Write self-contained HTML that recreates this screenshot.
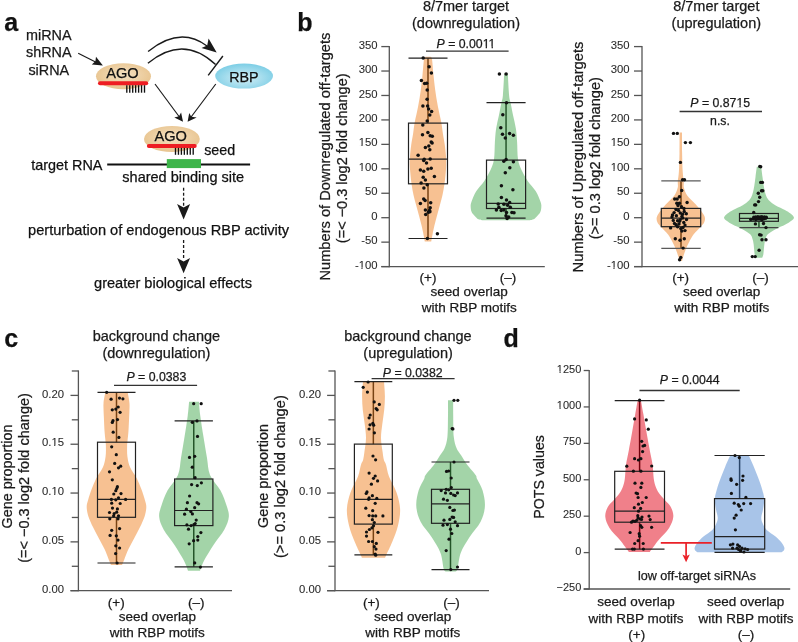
<!DOCTYPE html>
<html><head><meta charset="utf-8"><style>
html,body{margin:0;padding:0;background:#fff;}
body{width:798px;height:642px;overflow:hidden;font-family:"Liberation Sans", sans-serif;}
svg{display:block;will-change:transform;}
text{stroke:currentColor;stroke-width:0.25px;}
</style></head><body>
<svg width="798" height="642" viewBox="0 0 798 642" font-family='"Liberation Sans", sans-serif'>
<defs><radialGradient id="ago" cx="50%" cy="45%" r="55%"><stop offset="0" stop-color="#F5E1C2"/><stop offset="1" stop-color="#E8C48F"/></radialGradient><radialGradient id="rbp" cx="50%" cy="58%" r="55%"><stop offset="0" stop-color="#D2EFF7"/><stop offset="0.35" stop-color="#B8E4F1"/><stop offset="1" stop-color="#80CFE6"/></radialGradient><marker id="ah" viewBox="0 0 10 10" refX="9" refY="5" markerWidth="7" markerHeight="7" orient="auto-start-reverse" markerUnits="userSpaceOnUse"><path d="M0,0 L10,5 L0,10 L3,5 Z" fill="#1a1a1a"/></marker></defs>
<rect width="798" height="642" fill="#fff"/>
<text x="4.3" y="31" font-size="25" text-anchor="start" font-weight="bold" fill="#111" color="#111">a</text>
<text x="48.8" y="40" font-size="14.4" text-anchor="middle" fill="#1a1a1a" color="#1a1a1a">miRNA</text>
<text x="48.8" y="57.4" font-size="14.4" text-anchor="middle" fill="#1a1a1a" color="#1a1a1a">shRNA</text>
<text x="48.8" y="75" font-size="14.4" text-anchor="middle" fill="#1a1a1a" color="#1a1a1a">siRNA</text>
<path d="M78.2,53.3 L101,64.7" stroke="#1a1a1a" stroke-width="1.15" fill="none"/>
<path d="M102.9,65.6 L91.8,64.6 L95.4,61.2 L96,56.8 Z" fill="#1a1a1a"/>
<ellipse cx="123.5" cy="76.2" rx="27.5" ry="13" fill="url(#ago)"/>
<text x="122.4" y="77.8" font-size="14.6" text-anchor="middle" fill="#111" color="#111">AGO</text>
<line x1="100" y1="83.2" x2="146.2" y2="83.2" stroke="#EE1D23" stroke-width="4" stroke-linecap="round"/>
<line x1="126.8" y1="85.2" x2="126.8" y2="92.7" stroke="#111" stroke-width="1.35"/>
<line x1="129.75" y1="85.2" x2="129.75" y2="92.7" stroke="#111" stroke-width="1.35"/>
<line x1="132.7" y1="85.2" x2="132.7" y2="92.7" stroke="#111" stroke-width="1.35"/>
<line x1="135.65" y1="85.2" x2="135.65" y2="92.7" stroke="#111" stroke-width="1.35"/>
<line x1="138.6" y1="85.2" x2="138.6" y2="92.7" stroke="#111" stroke-width="1.35"/>
<line x1="141.55" y1="85.2" x2="141.55" y2="92.7" stroke="#111" stroke-width="1.35"/>
<line x1="144.5" y1="85.2" x2="144.5" y2="92.7" stroke="#111" stroke-width="1.35"/>
<ellipse cx="244.1" cy="76.05" rx="28.9" ry="12.55" fill="url(#rbp)"/>
<text x="243.9" y="82" font-size="14.3" text-anchor="middle" fill="#111" color="#111">RBP</text>
<path d="M148.1,51.5 Q180,25.6 207,46" stroke="#1a1a1a" stroke-width="1.4" fill="none"/>
<path d="M216.7,52.6 L208.6,38.5 L207.2,45.6 L201.5,48.1 Z" fill="#1a1a1a"/>
<path d="M147.9,63.3 Q183,34 215.6,64.5" stroke="#1a1a1a" stroke-width="1.4" fill="none"/>
<line x1="222.9" y1="56" x2="208.2" y2="75.4" stroke="#1a1a1a" stroke-width="1.4"/>
<path d="M155,84 L182,120.5" stroke="#1a1a1a" stroke-width="1.15" fill="none"/>
<path d="M183,121.8 L174.3,117.4 L179,116.2 L181.1,112.4 Z" fill="#1a1a1a"/>
<path d="M215.8,84 L188.5,120.5" stroke="#1a1a1a" stroke-width="1.15" fill="none"/>
<path d="M187.6,121.8 L189.2,113 L191.3,116.7 L196.7,117.4 Z" fill="#1a1a1a"/>
<ellipse cx="171.9" cy="139" rx="27.9" ry="13.1" fill="url(#ago)"/>
<text x="170.7" y="140.5" font-size="14.6" text-anchor="middle" fill="#111" color="#111">AGO</text>
<line x1="148.8" y1="146" x2="194.8" y2="146" stroke="#EE1D23" stroke-width="3.8" stroke-linecap="round"/>
<line x1="175.5" y1="147.9" x2="175.5" y2="154.8" stroke="#111" stroke-width="1.35"/>
<line x1="178.45" y1="147.9" x2="178.45" y2="154.8" stroke="#111" stroke-width="1.35"/>
<line x1="181.4" y1="147.9" x2="181.4" y2="154.8" stroke="#111" stroke-width="1.35"/>
<line x1="184.35" y1="147.9" x2="184.35" y2="154.8" stroke="#111" stroke-width="1.35"/>
<line x1="187.3" y1="147.9" x2="187.3" y2="154.8" stroke="#111" stroke-width="1.35"/>
<line x1="190.25" y1="147.9" x2="190.25" y2="154.8" stroke="#111" stroke-width="1.35"/>
<line x1="193.2" y1="147.9" x2="193.2" y2="154.8" stroke="#111" stroke-width="1.35"/>
<text x="204.2" y="154.7" font-size="14.3" text-anchor="start" fill="#111" color="#111">seed</text>
<text x="31.2" y="169.6" font-size="14.4" text-anchor="start" fill="#111" color="#111">target RNA</text>
<line x1="107.2" y1="164.5" x2="250.1" y2="164.5" stroke="#111" stroke-width="1.8"/>
<rect x="166.8" y="159.1" width="34.2" height="9" fill="#3DB54A"/>
<text x="183.2" y="181.6" font-size="14.5" text-anchor="middle" fill="#111" color="#111">shared binding site</text>
<line x1="183.6" y1="187.7" x2="183.6" y2="206" stroke="#1a1a1a" stroke-width="1.3" stroke-dasharray="3,2"/>
<path d="M183.6,219.4 L177.1,204 L183.6,207.4 L190.1,204 Z" fill="#1a1a1a"/>
<text x="158.6" y="235.1" font-size="14.6" text-anchor="middle" fill="#111" color="#111">perturbation of endogenous RBP activity</text>
<line x1="183.6" y1="240" x2="183.6" y2="260" stroke="#1a1a1a" stroke-width="1.3" stroke-dasharray="3,2"/>
<path d="M183.6,273.3 L177.1,258 L183.6,261.4 L190.1,258 Z" fill="#1a1a1a"/>
<text x="173" y="288.4" font-size="14.6" text-anchor="middle" fill="#111" color="#111">greater biological effects</text>
<text x="297.2" y="30.6" font-size="25" text-anchor="start" font-weight="bold" fill="#111" color="#111">b</text>
<text x="466" y="11" font-size="14.5" text-anchor="middle" fill="#1a1a1a" color="#1a1a1a">8/7mer target</text>
<text x="466" y="27.7" font-size="14.5" text-anchor="middle" fill="#1a1a1a" color="#1a1a1a">(downregulation)</text>
<line x1="389.3" y1="45.98499999999998" x2="389.3" y2="267.19" stroke="#555" stroke-width="1.3"/>
<line x1="381.3" y1="46.58499999999998" x2="389.3" y2="46.58499999999998" stroke="#555" stroke-width="1.3"/>
<text x="377.5" y="48.68499999999998" font-size="11.3" text-anchor="end" fill="#2a2a2a" color="#2a2a2a" style="stroke-width:0.08px">350</text>
<line x1="381.3" y1="71.03" x2="389.3" y2="71.03" stroke="#555" stroke-width="1.3"/>
<text x="377.5" y="73.13" font-size="11.3" text-anchor="end" fill="#2a2a2a" color="#2a2a2a" style="stroke-width:0.08px">300</text>
<line x1="381.3" y1="95.475" x2="389.3" y2="95.475" stroke="#555" stroke-width="1.3"/>
<text x="377.5" y="97.57499999999999" font-size="11.3" text-anchor="end" fill="#2a2a2a" color="#2a2a2a" style="stroke-width:0.08px">250</text>
<line x1="381.3" y1="119.91999999999999" x2="389.3" y2="119.91999999999999" stroke="#555" stroke-width="1.3"/>
<text x="377.5" y="122.01999999999998" font-size="11.3" text-anchor="end" fill="#2a2a2a" color="#2a2a2a" style="stroke-width:0.08px">200</text>
<line x1="381.3" y1="144.365" x2="389.3" y2="144.365" stroke="#555" stroke-width="1.3"/>
<text x="377.5" y="146.465" font-size="11.3" text-anchor="end" fill="#2a2a2a" color="#2a2a2a" style="stroke-width:0.08px">150</text>
<line x1="381.3" y1="168.81" x2="389.3" y2="168.81" stroke="#555" stroke-width="1.3"/>
<text x="377.5" y="170.91" font-size="11.3" text-anchor="end" fill="#2a2a2a" color="#2a2a2a" style="stroke-width:0.08px">100</text>
<line x1="381.3" y1="193.255" x2="389.3" y2="193.255" stroke="#555" stroke-width="1.3"/>
<text x="377.5" y="195.355" font-size="11.3" text-anchor="end" fill="#2a2a2a" color="#2a2a2a" style="stroke-width:0.08px">50</text>
<line x1="381.3" y1="217.7" x2="389.3" y2="217.7" stroke="#555" stroke-width="1.3"/>
<text x="377.5" y="219.79999999999998" font-size="11.3" text-anchor="end" fill="#2a2a2a" color="#2a2a2a" style="stroke-width:0.08px">0</text>
<line x1="381.3" y1="242.14499999999998" x2="389.3" y2="242.14499999999998" stroke="#555" stroke-width="1.3"/>
<text x="377.5" y="244.24499999999998" font-size="11.3" text-anchor="end" fill="#2a2a2a" color="#2a2a2a" style="stroke-width:0.08px">-50</text>
<line x1="381.3" y1="266.59" x2="389.3" y2="266.59" stroke="#555" stroke-width="1.3"/>
<text x="377.5" y="268.69" font-size="11.3" text-anchor="end" fill="#2a2a2a" color="#2a2a2a" style="stroke-width:0.08px">-100</text>
<line x1="381.3" y1="266.59" x2="544.8" y2="266.59" stroke="#555" stroke-width="1.3"/>
<text x="330" y="156.6" font-size="14.65" text-anchor="middle" fill="#1a1a1a" color="#1a1a1a" transform="rotate(-90 330 156.6)">Numbers of Downregulated off-targets</text>
<text x="347.2" y="158.3" font-size="14.5" text-anchor="middle" fill="#1a1a1a" color="#1a1a1a" transform="rotate(-90 347.2 158.3)">(=&lt; −0.3 log2 fold change)</text>
<line x1="428.0" y1="58.2" x2="428.0" y2="123.1" stroke="#000" stroke-width="1.5"/>
<line x1="428.0" y1="183.8" x2="428.0" y2="238.5" stroke="#000" stroke-width="1.5"/>
<path d="M425.50,56.80 L430.50,56.80 C430.75,57.22 431.50,56.27 432.00,59.30 C432.50,62.33 432.97,69.88 433.50,75.00 C434.03,80.12 434.48,84.83 435.20,90.00 C435.92,95.17 436.78,100.57 437.80,106.00 C438.82,111.43 440.47,118.10 441.30,122.60 C442.13,127.10 442.22,129.27 442.80,133.00 C443.38,136.73 444.27,141.10 444.80,145.00 C445.33,148.90 445.77,153.07 446.00,156.40 C446.23,159.73 446.28,161.90 446.20,165.00 C446.12,168.10 445.82,171.67 445.50,175.00 C445.18,178.33 444.80,181.67 444.30,185.00 C443.80,188.33 443.23,191.67 442.50,195.00 C441.77,198.33 440.83,201.50 439.90,205.00 C438.97,208.50 437.83,212.50 436.90,216.00 C435.97,219.50 435.02,223.00 434.30,226.00 C433.58,229.00 433.12,231.42 432.60,234.00 C432.08,236.58 431.43,240.25 431.20,241.50 L424.80,241.50 C424.57,240.25 423.92,236.58 423.40,234.00 C422.88,231.42 422.42,229.00 421.70,226.00 C420.98,223.00 420.03,219.50 419.10,216.00 C418.17,212.50 417.03,208.50 416.10,205.00 C415.17,201.50 414.23,198.33 413.50,195.00 C412.77,191.67 412.20,188.33 411.70,185.00 C411.20,181.67 410.82,178.33 410.50,175.00 C410.18,171.67 409.88,168.10 409.80,165.00 C409.72,161.90 409.77,159.73 410.00,156.40 C410.23,153.07 410.67,148.90 411.20,145.00 C411.73,141.10 412.62,136.73 413.20,133.00 C413.78,129.27 413.87,127.10 414.70,122.60 C415.53,118.10 417.18,111.43 418.20,106.00 C419.22,100.57 420.08,95.17 420.80,90.00 C421.52,84.83 421.97,80.12 422.50,75.00 C423.03,69.88 423.50,62.33 424.00,59.30 C424.50,56.27 425.25,57.22 425.50,56.80 Z" fill="#F08425" fill-opacity="0.5"/>
<line x1="408.5" y1="58.2" x2="447.5" y2="58.2" stroke="#222" stroke-width="1.2"/>
<line x1="408.5" y1="238.5" x2="447.5" y2="238.5" stroke="#222" stroke-width="1.2"/>
<rect x="408.5" y="123.1" width="39.0" height="60.70000000000002" fill="none" stroke="#222" stroke-width="1.2"/>
<line x1="408.5" y1="159.2" x2="447.5" y2="159.2" stroke="#222" stroke-width="1.2"/>
<circle cx="423.2" cy="57.9" r="1.75" fill="#111"/>
<circle cx="429.1" cy="66.8" r="1.75" fill="#111"/>
<circle cx="431.4" cy="72.9" r="1.75" fill="#111"/>
<circle cx="421.4" cy="80.4" r="1.75" fill="#111"/>
<circle cx="424.6" cy="83.5" r="1.75" fill="#111"/>
<circle cx="426.7" cy="83.2" r="1.75" fill="#111"/>
<circle cx="427.2" cy="90.0" r="1.75" fill="#111"/>
<circle cx="427.1" cy="99.3" r="1.75" fill="#111"/>
<circle cx="422.9" cy="106.1" r="1.75" fill="#111"/>
<circle cx="427.6" cy="106.1" r="1.75" fill="#111"/>
<circle cx="428.6" cy="109.1" r="1.75" fill="#111"/>
<circle cx="431.6" cy="111.4" r="1.75" fill="#111"/>
<circle cx="429.8" cy="115.1" r="1.75" fill="#111"/>
<circle cx="427.2" cy="120.9" r="1.75" fill="#111"/>
<circle cx="422.8" cy="125.1" r="1.75" fill="#111"/>
<circle cx="427.9" cy="132.6" r="1.75" fill="#111"/>
<circle cx="422.5" cy="134.7" r="1.75" fill="#111"/>
<circle cx="430.2" cy="135.7" r="1.75" fill="#111"/>
<circle cx="432.3" cy="136.3" r="1.75" fill="#111"/>
<circle cx="431.2" cy="141.9" r="1.75" fill="#111"/>
<circle cx="432.1" cy="143.1" r="1.75" fill="#111"/>
<circle cx="428.8" cy="146.1" r="1.75" fill="#111"/>
<circle cx="425.4" cy="147.5" r="1.75" fill="#111"/>
<circle cx="429.8" cy="149.7" r="1.75" fill="#111"/>
<circle cx="418.1" cy="155.2" r="1.75" fill="#111"/>
<circle cx="424.2" cy="159.2" r="1.75" fill="#111"/>
<circle cx="430.2" cy="159.0" r="1.75" fill="#111"/>
<circle cx="426.5" cy="163.0" r="1.75" fill="#111"/>
<circle cx="423.7" cy="160.5" r="1.75" fill="#111"/>
<circle cx="427.9" cy="168.9" r="1.75" fill="#111"/>
<circle cx="431.2" cy="168.2" r="1.75" fill="#111"/>
<circle cx="420.4" cy="170.1" r="1.75" fill="#111"/>
<circle cx="423.7" cy="171.2" r="1.75" fill="#111"/>
<circle cx="423.2" cy="177.3" r="1.75" fill="#111"/>
<circle cx="434.4" cy="176.6" r="1.75" fill="#111"/>
<circle cx="425.4" cy="180.1" r="1.75" fill="#111"/>
<circle cx="421.1" cy="182.9" r="1.75" fill="#111"/>
<circle cx="427.2" cy="184.8" r="1.75" fill="#111"/>
<circle cx="423.9" cy="187.9" r="1.75" fill="#111"/>
<circle cx="423.7" cy="199.1" r="1.75" fill="#111"/>
<circle cx="425.1" cy="200.4" r="1.75" fill="#111"/>
<circle cx="420.4" cy="203.5" r="1.75" fill="#111"/>
<circle cx="430.7" cy="202.8" r="1.75" fill="#111"/>
<circle cx="430.2" cy="207.7" r="1.75" fill="#111"/>
<circle cx="425.4" cy="210.0" r="1.75" fill="#111"/>
<circle cx="429.5" cy="210.5" r="1.75" fill="#111"/>
<circle cx="429.9" cy="211.7" r="1.75" fill="#111"/>
<circle cx="428.4" cy="212.3" r="1.75" fill="#111"/>
<circle cx="425.7" cy="214.4" r="1.75" fill="#111"/>
<circle cx="437.4" cy="233.8" r="1.75" fill="#111"/>
<circle cx="427.4" cy="238.5" r="1.75" fill="#111"/>
<line x1="506.05" y1="102.7" x2="506.05" y2="160.1" stroke="#000" stroke-width="1.5"/>
<line x1="506.05" y1="208.5" x2="506.05" y2="218.1" stroke="#000" stroke-width="1.5"/>
<path d="M504.20,73.60 L507.80,73.60 C508.02,77.23 508.63,90.55 509.10,95.40 C509.57,100.25 509.93,99.33 510.60,102.70 C511.27,106.07 512.22,111.25 513.10,115.60 C513.98,119.95 515.23,124.38 515.90,128.80 C516.57,133.22 516.75,137.02 517.10,142.10 C517.45,147.18 517.27,154.65 518.00,159.30 C518.73,163.95 519.92,166.43 521.50,170.00 C523.08,173.57 525.12,177.15 527.50,180.70 C529.88,184.25 533.62,187.75 535.80,191.30 C537.98,194.85 539.68,199.33 540.60,202.00 C541.52,204.67 541.38,205.53 541.30,207.30 C541.22,209.07 540.93,211.00 540.10,212.60 C539.27,214.20 537.40,215.78 536.30,216.90 C535.20,218.02 534.55,218.73 533.50,219.30 C532.45,219.87 530.58,220.13 530.00,220.30 L482.00,220.30 C481.42,220.13 479.55,219.87 478.50,219.30 C477.45,218.73 476.80,218.02 475.70,216.90 C474.60,215.78 472.73,214.20 471.90,212.60 C471.07,211.00 470.78,209.07 470.70,207.30 C470.62,205.53 470.48,204.67 471.40,202.00 C472.32,199.33 474.02,194.85 476.20,191.30 C478.38,187.75 482.12,184.25 484.50,180.70 C486.88,177.15 488.92,173.57 490.50,170.00 C492.08,166.43 493.27,163.95 494.00,159.30 C494.73,154.65 494.55,147.18 494.90,142.10 C495.25,137.02 495.43,133.22 496.10,128.80 C496.77,124.38 498.02,119.95 498.90,115.60 C499.78,111.25 500.73,106.07 501.40,102.70 C502.07,99.33 502.43,100.25 502.90,95.40 C503.37,90.55 503.98,77.23 504.20,73.60 Z" fill="#47A951" fill-opacity="0.5"/>
<line x1="486.5" y1="102.7" x2="525.6" y2="102.7" stroke="#222" stroke-width="1.2"/>
<line x1="486.5" y1="218.1" x2="525.6" y2="218.1" stroke="#222" stroke-width="1.2"/>
<rect x="486.5" y="160.1" width="39.10000000000002" height="48.400000000000006" fill="none" stroke="#222" stroke-width="1.2"/>
<line x1="486.5" y1="203.3" x2="525.6" y2="203.3" stroke="#222" stroke-width="1.2"/>
<circle cx="499.4" cy="73.9" r="1.75" fill="#111"/>
<circle cx="506.1" cy="73.9" r="1.75" fill="#111"/>
<circle cx="506.5" cy="102.7" r="1.75" fill="#111"/>
<circle cx="502.8" cy="114.8" r="1.75" fill="#111"/>
<circle cx="500.8" cy="127.8" r="1.75" fill="#111"/>
<circle cx="502.5" cy="134.3" r="1.75" fill="#111"/>
<circle cx="509.6" cy="133.6" r="1.75" fill="#111"/>
<circle cx="513.4" cy="135.3" r="1.75" fill="#111"/>
<circle cx="505.3" cy="137.9" r="1.75" fill="#111"/>
<circle cx="506.1" cy="159.4" r="1.75" fill="#111"/>
<circle cx="503.8" cy="161.2" r="1.75" fill="#111"/>
<circle cx="513.4" cy="161.7" r="1.75" fill="#111"/>
<circle cx="509.8" cy="167.8" r="1.75" fill="#111"/>
<circle cx="505.3" cy="172.8" r="1.75" fill="#111"/>
<circle cx="501.4" cy="185.8" r="1.75" fill="#111"/>
<circle cx="512.9" cy="189.7" r="1.75" fill="#111"/>
<circle cx="501.4" cy="197.5" r="1.75" fill="#111"/>
<circle cx="506.5" cy="200.0" r="1.75" fill="#111"/>
<circle cx="498.2" cy="203.9" r="1.75" fill="#111"/>
<circle cx="503.9" cy="204.3" r="1.75" fill="#111"/>
<circle cx="509.7" cy="202.5" r="1.75" fill="#111"/>
<circle cx="507.6" cy="205.2" r="1.75" fill="#111"/>
<circle cx="510.3" cy="207.3" r="1.75" fill="#111"/>
<circle cx="498.9" cy="207.3" r="1.75" fill="#111"/>
<circle cx="496.4" cy="210.0" r="1.75" fill="#111"/>
<circle cx="501.2" cy="210.5" r="1.75" fill="#111"/>
<circle cx="503.9" cy="210.0" r="1.75" fill="#111"/>
<circle cx="506.5" cy="212.6" r="1.75" fill="#111"/>
<circle cx="511.9" cy="212.6" r="1.75" fill="#111"/>
<circle cx="514.0" cy="212.8" r="1.75" fill="#111"/>
<circle cx="506.0" cy="215.8" r="1.75" fill="#111"/>
<circle cx="508.7" cy="216.9" r="1.75" fill="#111"/>
<circle cx="507.1" cy="218.5" r="1.75" fill="#111"/>
<line x1="426" y1="51.1" x2="508.6" y2="51.1" stroke="#333" stroke-width="1.3"/>
<text x="466" y="48.1" font-size="12.3" text-anchor="middle" fill="#1a1a1a" color="#1a1a1a"><tspan font-style="italic">P</tspan> = 0.0011</text>
<text x="428" y="282.3" font-size="13.5" text-anchor="middle" fill="#1a1a1a" color="#1a1a1a">(+)</text>
<text x="508" y="282.3" font-size="13.5" text-anchor="middle" fill="#1a1a1a" color="#1a1a1a">(–)</text>
<text x="469.2" y="296.2" font-size="13.5" text-anchor="middle" fill="#1a1a1a" color="#1a1a1a">seed overlap</text>
<text x="469.2" y="312.3" font-size="13.5" text-anchor="middle" fill="#1a1a1a" color="#1a1a1a">with RBP motifs</text>
<text x="716.3" y="11" font-size="14.5" text-anchor="middle" fill="#1a1a1a" color="#1a1a1a">8/7mer target</text>
<text x="716.3" y="27.7" font-size="14.5" text-anchor="middle" fill="#1a1a1a" color="#1a1a1a">(upregulation)</text>
<line x1="642" y1="45.98499999999998" x2="642" y2="267.19" stroke="#555" stroke-width="1.3"/>
<line x1="634" y1="46.58499999999998" x2="642" y2="46.58499999999998" stroke="#555" stroke-width="1.3"/>
<text x="629.5" y="48.68499999999998" font-size="11.3" text-anchor="end" fill="#2a2a2a" color="#2a2a2a" style="stroke-width:0.08px">350</text>
<line x1="634" y1="71.03" x2="642" y2="71.03" stroke="#555" stroke-width="1.3"/>
<text x="629.5" y="73.13" font-size="11.3" text-anchor="end" fill="#2a2a2a" color="#2a2a2a" style="stroke-width:0.08px">300</text>
<line x1="634" y1="95.475" x2="642" y2="95.475" stroke="#555" stroke-width="1.3"/>
<text x="629.5" y="97.57499999999999" font-size="11.3" text-anchor="end" fill="#2a2a2a" color="#2a2a2a" style="stroke-width:0.08px">250</text>
<line x1="634" y1="119.91999999999999" x2="642" y2="119.91999999999999" stroke="#555" stroke-width="1.3"/>
<text x="629.5" y="122.01999999999998" font-size="11.3" text-anchor="end" fill="#2a2a2a" color="#2a2a2a" style="stroke-width:0.08px">200</text>
<line x1="634" y1="144.365" x2="642" y2="144.365" stroke="#555" stroke-width="1.3"/>
<text x="629.5" y="146.465" font-size="11.3" text-anchor="end" fill="#2a2a2a" color="#2a2a2a" style="stroke-width:0.08px">150</text>
<line x1="634" y1="168.81" x2="642" y2="168.81" stroke="#555" stroke-width="1.3"/>
<text x="629.5" y="170.91" font-size="11.3" text-anchor="end" fill="#2a2a2a" color="#2a2a2a" style="stroke-width:0.08px">100</text>
<line x1="634" y1="193.255" x2="642" y2="193.255" stroke="#555" stroke-width="1.3"/>
<text x="629.5" y="195.355" font-size="11.3" text-anchor="end" fill="#2a2a2a" color="#2a2a2a" style="stroke-width:0.08px">50</text>
<line x1="634" y1="217.7" x2="642" y2="217.7" stroke="#555" stroke-width="1.3"/>
<text x="629.5" y="219.79999999999998" font-size="11.3" text-anchor="end" fill="#2a2a2a" color="#2a2a2a" style="stroke-width:0.08px">0</text>
<line x1="634" y1="242.14499999999998" x2="642" y2="242.14499999999998" stroke="#555" stroke-width="1.3"/>
<text x="629.5" y="244.24499999999998" font-size="11.3" text-anchor="end" fill="#2a2a2a" color="#2a2a2a" style="stroke-width:0.08px">-50</text>
<line x1="634" y1="266.59" x2="642" y2="266.59" stroke="#555" stroke-width="1.3"/>
<text x="629.5" y="268.69" font-size="11.3" text-anchor="end" fill="#2a2a2a" color="#2a2a2a" style="stroke-width:0.08px">-100</text>
<line x1="634" y1="266.59" x2="798" y2="266.59" stroke="#555" stroke-width="1.3"/>
<text x="582.8" y="157.0" font-size="14.75" text-anchor="middle" fill="#1a1a1a" color="#1a1a1a" transform="rotate(-90 582.8 157.0)">Numbers of Upregulated off-targets</text>
<text x="600.5" y="158.2" font-size="14.6" text-anchor="middle" fill="#1a1a1a" color="#1a1a1a" transform="rotate(-90 600.5 158.2)">(&gt;= 0.3 log2 fold change)</text>
<line x1="681.0" y1="180.9" x2="681.0" y2="208.4" stroke="#000" stroke-width="1.5"/>
<line x1="681.0" y1="226.7" x2="681.0" y2="248.3" stroke="#000" stroke-width="1.5"/>
<path d="M679.60,132.50 L682.00,132.50 C682.02,135.92 681.98,146.45 682.10,153.00 C682.22,159.55 682.42,167.12 682.70,171.80 C682.98,176.48 683.60,178.43 683.80,181.10 C684.00,183.77 683.33,185.40 683.90,187.80 C684.47,190.20 685.42,192.92 687.20,195.50 C688.98,198.08 692.65,201.22 694.60,203.30 C696.55,205.38 697.35,206.05 698.90,208.00 C700.45,209.95 702.88,213.18 703.90,215.00 C704.92,216.82 704.98,217.62 705.00,218.90 C705.02,220.18 704.72,221.40 704.00,222.70 C703.28,224.00 702.45,224.73 700.70,226.70 C698.95,228.67 695.45,231.90 693.50,234.50 C691.55,237.10 690.33,239.72 689.00,242.30 C687.67,244.88 686.52,247.42 685.50,250.00 C684.48,252.58 683.47,255.97 682.90,257.80 C682.33,259.63 682.23,260.47 682.10,261.00 L679.50,261.00 C679.37,260.47 679.27,259.63 678.70,257.80 C678.13,255.97 677.12,252.58 676.10,250.00 C675.08,247.42 673.93,244.88 672.60,242.30 C671.27,239.72 670.05,237.10 668.10,234.50 C666.15,231.90 662.65,228.67 660.90,226.70 C659.15,224.73 658.32,224.00 657.60,222.70 C656.88,221.40 656.58,220.18 656.60,218.90 C656.62,217.62 656.68,216.82 657.70,215.00 C658.72,213.18 661.15,209.95 662.70,208.00 C664.25,206.05 665.05,205.38 667.00,203.30 C668.95,201.22 672.62,198.08 674.40,195.50 C676.18,192.92 677.13,190.20 677.70,187.80 C678.27,185.40 677.60,183.77 677.80,181.10 C678.00,178.43 678.62,176.48 678.90,171.80 C679.18,167.12 679.38,159.55 679.50,153.00 C679.62,146.45 679.58,135.92 679.60,132.50 Z" fill="#F08425" fill-opacity="0.5"/>
<line x1="661.3" y1="180.9" x2="700.7" y2="180.9" stroke="#5a5a5a" stroke-width="1.2"/>
<line x1="661.3" y1="248.3" x2="700.7" y2="248.3" stroke="#5a5a5a" stroke-width="1.2"/>
<rect x="661.3" y="208.4" width="39.40000000000009" height="18.299999999999983" fill="none" stroke="#222" stroke-width="1.2"/>
<line x1="661.3" y1="218.2" x2="700.7" y2="218.2" stroke="#222" stroke-width="1.2"/>
<circle cx="673.5" cy="133.4" r="1.7" fill="#111"/>
<circle cx="677.3" cy="133.4" r="1.7" fill="#111"/>
<circle cx="685.4" cy="142.6" r="1.7" fill="#111"/>
<circle cx="690.4" cy="142.6" r="1.7" fill="#111"/>
<circle cx="680.4" cy="162.4" r="1.7" fill="#111"/>
<circle cx="682.6" cy="179.7" r="1.7" fill="#111"/>
<circle cx="684.5" cy="179.7" r="1.7" fill="#111"/>
<circle cx="681.7" cy="190.5" r="1.7" fill="#111"/>
<circle cx="679.4" cy="196.7" r="1.7" fill="#111"/>
<circle cx="674.7" cy="199.0" r="1.7" fill="#111"/>
<circle cx="677.2" cy="199.0" r="1.7" fill="#111"/>
<circle cx="676.8" cy="203.3" r="1.7" fill="#111"/>
<circle cx="679.4" cy="203.2" r="1.7" fill="#111"/>
<circle cx="687.1" cy="202.5" r="1.7" fill="#111"/>
<circle cx="681.5" cy="206.8" r="1.7" fill="#111"/>
<circle cx="676.0" cy="209.5" r="1.7" fill="#111"/>
<circle cx="684.2" cy="211.5" r="1.7" fill="#111"/>
<circle cx="674.1" cy="212.6" r="1.7" fill="#111"/>
<circle cx="680.3" cy="213.0" r="1.7" fill="#111"/>
<circle cx="682.6" cy="214.2" r="1.7" fill="#111"/>
<circle cx="676.4" cy="215.7" r="1.7" fill="#111"/>
<circle cx="681.9" cy="216.5" r="1.7" fill="#111"/>
<circle cx="673.3" cy="220.4" r="1.7" fill="#111"/>
<circle cx="677.6" cy="220.8" r="1.7" fill="#111"/>
<circle cx="680.3" cy="219.6" r="1.7" fill="#111"/>
<circle cx="679.6" cy="221.2" r="1.7" fill="#111"/>
<circle cx="682.7" cy="218.1" r="1.7" fill="#111"/>
<circle cx="676.1" cy="224.7" r="1.7" fill="#111"/>
<circle cx="677.6" cy="226.7" r="1.7" fill="#111"/>
<circle cx="685.0" cy="225.1" r="1.7" fill="#111"/>
<circle cx="670.6" cy="227.9" r="1.7" fill="#111"/>
<circle cx="680.8" cy="228.6" r="1.7" fill="#111"/>
<circle cx="681.9" cy="231.0" r="1.7" fill="#111"/>
<circle cx="685.0" cy="230.6" r="1.7" fill="#111"/>
<circle cx="675.3" cy="238.8" r="1.7" fill="#111"/>
<circle cx="680.0" cy="240.3" r="1.7" fill="#111"/>
<circle cx="684.3" cy="238.8" r="1.7" fill="#111"/>
<circle cx="683.1" cy="248.1" r="1.7" fill="#111"/>
<circle cx="680.8" cy="257.4" r="1.7" fill="#111"/>
<circle cx="679.6" cy="259.8" r="1.7" fill="#111"/>
<circle cx="678.5" cy="210.5" r="1.7" fill="#111"/>
<circle cx="686.3" cy="213.8" r="1.7" fill="#111"/>
<circle cx="672.0" cy="217.0" r="1.7" fill="#111"/>
<circle cx="683.8" cy="222.5" r="1.7" fill="#111"/>
<circle cx="674.5" cy="223.5" r="1.7" fill="#111"/>
<circle cx="678.0" cy="205.5" r="1.7" fill="#111"/>
<circle cx="684.0" cy="208.5" r="1.7" fill="#111"/>
<circle cx="672.5" cy="215.0" r="1.7" fill="#111"/>
<circle cx="686.5" cy="219.5" r="1.7" fill="#111"/>
<circle cx="679.0" cy="224.0" r="1.7" fill="#111"/>
<circle cx="683.0" cy="227.5" r="1.7" fill="#111"/>
<line x1="758.95" y1="213.5" x2="758.95" y2="213.5" stroke="#000" stroke-width="1.5"/>
<line x1="758.95" y1="221.3" x2="758.95" y2="227.6" stroke="#000" stroke-width="1.5"/>
<path d="M756.80,166.80 L761.20,166.80 C761.42,168.52 762.08,173.95 762.50,177.10 C762.92,180.25 763.18,182.85 763.70,185.70 C764.22,188.55 764.75,191.78 765.60,194.20 C766.45,196.62 767.12,198.33 768.80,200.20 C770.48,202.07 773.02,203.78 775.70,205.40 C778.38,207.02 782.43,208.55 784.90,209.90 C787.37,211.25 788.98,212.20 790.50,213.50 C792.02,214.80 793.92,216.45 794.00,217.70 C794.08,218.95 792.43,219.87 791.00,221.00 C789.57,222.13 788.05,223.10 785.40,224.50 C782.75,225.90 778.03,227.77 775.10,229.40 C772.17,231.03 769.40,232.70 767.80,234.30 C766.20,235.90 766.07,237.37 765.50,239.00 C764.93,240.63 764.75,241.62 764.40,244.10 C764.05,246.58 763.77,251.62 763.40,253.90 C763.03,256.18 762.40,257.15 762.20,257.80 L755.80,257.80 C755.60,257.15 754.97,256.18 754.60,253.90 C754.23,251.62 753.95,246.58 753.60,244.10 C753.25,241.62 753.07,240.63 752.50,239.00 C751.93,237.37 751.80,235.90 750.20,234.30 C748.60,232.70 745.83,231.03 742.90,229.40 C739.97,227.77 735.25,225.90 732.60,224.50 C729.95,223.10 728.43,222.13 727.00,221.00 C725.57,219.87 723.92,218.95 724.00,217.70 C724.08,216.45 725.98,214.80 727.50,213.50 C729.02,212.20 730.63,211.25 733.10,209.90 C735.57,208.55 739.62,207.02 742.30,205.40 C744.98,203.78 747.52,202.07 749.20,200.20 C750.88,198.33 751.55,196.62 752.40,194.20 C753.25,191.78 753.78,188.55 754.30,185.70 C754.82,182.85 755.08,180.25 755.50,177.10 C755.92,173.95 756.58,168.52 756.80,166.80 Z" fill="#47A951" fill-opacity="0.5"/>
<line x1="739.5" y1="213.5" x2="778.4" y2="213.5" stroke="#444" stroke-width="1.2"/>
<line x1="739.5" y1="227.6" x2="778.4" y2="227.6" stroke="#444" stroke-width="1.2"/>
<rect x="739.5" y="213.5" width="38.89999999999998" height="7.800000000000011" fill="none" stroke="#222" stroke-width="1.2"/>
<line x1="739.5" y1="218.3" x2="778.4" y2="218.3" stroke="#222" stroke-width="1.2"/>
<circle cx="759.8" cy="166.4" r="1.7" fill="#111"/>
<circle cx="760.7" cy="166.7" r="1.7" fill="#111"/>
<circle cx="760.7" cy="182.4" r="1.7" fill="#111"/>
<circle cx="762.4" cy="182.4" r="1.7" fill="#111"/>
<circle cx="761.5" cy="190.7" r="1.7" fill="#111"/>
<circle cx="762.8" cy="190.7" r="1.7" fill="#111"/>
<circle cx="758.3" cy="193.2" r="1.7" fill="#111"/>
<circle cx="759.7" cy="197.2" r="1.7" fill="#111"/>
<circle cx="758.5" cy="201.6" r="1.7" fill="#111"/>
<circle cx="755.7" cy="204.9" r="1.7" fill="#111"/>
<circle cx="754.7" cy="204.9" r="1.7" fill="#111"/>
<circle cx="753.7" cy="212.5" r="1.7" fill="#111"/>
<circle cx="753.8" cy="217.2" r="1.7" fill="#111"/>
<circle cx="755.7" cy="216.9" r="1.7" fill="#111"/>
<circle cx="757.9" cy="216.6" r="1.7" fill="#111"/>
<circle cx="760.1" cy="216.9" r="1.7" fill="#111"/>
<circle cx="761.9" cy="216.6" r="1.7" fill="#111"/>
<circle cx="764.4" cy="216.9" r="1.7" fill="#111"/>
<circle cx="766.3" cy="217.2" r="1.7" fill="#111"/>
<circle cx="750.7" cy="219.4" r="1.7" fill="#111"/>
<circle cx="753.2" cy="219.1" r="1.7" fill="#111"/>
<circle cx="755.7" cy="219.6" r="1.7" fill="#111"/>
<circle cx="757.9" cy="219.1" r="1.7" fill="#111"/>
<circle cx="760.1" cy="219.1" r="1.7" fill="#111"/>
<circle cx="761.9" cy="219.7" r="1.7" fill="#111"/>
<circle cx="763.8" cy="218.8" r="1.7" fill="#111"/>
<circle cx="765.7" cy="218.2" r="1.7" fill="#111"/>
<circle cx="755.4" cy="223.9" r="1.7" fill="#111"/>
<circle cx="763.5" cy="223.5" r="1.7" fill="#111"/>
<circle cx="766.0" cy="227.6" r="1.7" fill="#111"/>
<circle cx="759.6" cy="234.8" r="1.7" fill="#111"/>
<circle cx="761.1" cy="235.1" r="1.7" fill="#111"/>
<circle cx="762.0" cy="239.7" r="1.7" fill="#111"/>
<circle cx="766.0" cy="239.7" r="1.7" fill="#111"/>
<circle cx="759.1" cy="250.2" r="1.7" fill="#111"/>
<circle cx="752.3" cy="256.6" r="1.7" fill="#111"/>
<circle cx="755.2" cy="256.6" r="1.7" fill="#111"/>
<line x1="679.6" y1="111.5" x2="762" y2="111.5" stroke="#333" stroke-width="1.3"/>
<text x="720.2" y="106.6" font-size="12.3" text-anchor="middle" fill="#1a1a1a" color="#1a1a1a"><tspan font-style="italic">P</tspan> = 0.8715</text>
<text x="720" y="124.5" font-size="12.3" text-anchor="middle" fill="#1a1a1a" color="#1a1a1a">n.s.</text>
<text x="680.6" y="282.3" font-size="13.5" text-anchor="middle" fill="#1a1a1a" color="#1a1a1a">(+)</text>
<text x="760.4" y="282.3" font-size="13.5" text-anchor="middle" fill="#1a1a1a" color="#1a1a1a">(–)</text>
<text x="721.7" y="296.2" font-size="13.5" text-anchor="middle" fill="#1a1a1a" color="#1a1a1a">seed overlap</text>
<text x="721.7" y="312.3" font-size="13.5" text-anchor="middle" fill="#1a1a1a" color="#1a1a1a">with RBP motifs</text>
<text x="4.3" y="347" font-size="25" text-anchor="start" font-weight="bold" fill="#111" color="#111">c</text>
<text x="156.4" y="340.6" font-size="14.5" text-anchor="middle" fill="#1a1a1a" color="#1a1a1a">background change</text>
<text x="156.4" y="357.6" font-size="14.5" text-anchor="middle" fill="#1a1a1a" color="#1a1a1a">(downregulation)</text>
<line x1="78.4" y1="370.38750000000005" x2="78.4" y2="591.3000000000001" stroke="#555" stroke-width="1.3"/>
<line x1="70.5" y1="395.40000000000003" x2="78.4" y2="395.40000000000003" stroke="#555" stroke-width="1.3"/>
<text x="64.0" y="397.50000000000006" font-size="11.3" text-anchor="end" fill="#2a2a2a" color="#2a2a2a" style="stroke-width:0.08px">0.20</text>
<line x1="70.5" y1="444.225" x2="78.4" y2="444.225" stroke="#555" stroke-width="1.3"/>
<text x="64.0" y="446.32500000000005" font-size="11.3" text-anchor="end" fill="#2a2a2a" color="#2a2a2a" style="stroke-width:0.08px">0.15</text>
<line x1="70.5" y1="493.05000000000007" x2="78.4" y2="493.05000000000007" stroke="#555" stroke-width="1.3"/>
<text x="64.0" y="495.1500000000001" font-size="11.3" text-anchor="end" fill="#2a2a2a" color="#2a2a2a" style="stroke-width:0.08px">0.10</text>
<line x1="70.5" y1="541.875" x2="78.4" y2="541.875" stroke="#555" stroke-width="1.3"/>
<text x="64.0" y="543.975" font-size="11.3" text-anchor="end" fill="#2a2a2a" color="#2a2a2a" style="stroke-width:0.08px">0.05</text>
<line x1="70.5" y1="590.7" x2="78.4" y2="590.7" stroke="#555" stroke-width="1.3"/>
<text x="64.0" y="592.8000000000001" font-size="11.3" text-anchor="end" fill="#2a2a2a" color="#2a2a2a" style="stroke-width:0.08px">0.00</text>
<line x1="71.80000000000001" y1="370.98750000000007" x2="78.4" y2="370.98750000000007" stroke="#555" stroke-width="1.3"/>
<line x1="71.80000000000001" y1="419.81250000000006" x2="78.4" y2="419.81250000000006" stroke="#555" stroke-width="1.3"/>
<line x1="71.80000000000001" y1="468.63750000000005" x2="78.4" y2="468.63750000000005" stroke="#555" stroke-width="1.3"/>
<line x1="71.80000000000001" y1="517.4625000000001" x2="78.4" y2="517.4625000000001" stroke="#555" stroke-width="1.3"/>
<line x1="71.80000000000001" y1="566.2875" x2="78.4" y2="566.2875" stroke="#555" stroke-width="1.3"/>
<line x1="70.5" y1="590.7" x2="232" y2="590.7" stroke="#555" stroke-width="1.3"/>
<text x="11.7" y="476.5" font-size="14.4" text-anchor="middle" fill="#1a1a1a" color="#1a1a1a" transform="rotate(-90 11.7 476.5)">Gene proportion</text>
<text x="28.8" y="478" font-size="14.5" text-anchor="middle" fill="#1a1a1a" color="#1a1a1a" transform="rotate(-90 28.8 478)">(=&lt; −0.3 log2 fold change)</text>
<line x1="116.5" y1="392.4" x2="116.5" y2="442.2" stroke="#000" stroke-width="1.5"/>
<line x1="116.5" y1="517.3" x2="116.5" y2="563" stroke="#000" stroke-width="1.5"/>
<path d="M105.30,392.60 L127.70,392.60 C128.00,394.45 129.27,399.52 129.50,403.70 C129.73,407.88 129.28,413.02 129.10,417.70 C128.92,422.38 128.67,427.92 128.40,431.80 C128.13,435.68 127.72,438.63 127.50,441.00 C127.28,443.37 127.12,443.43 127.10,446.00 C127.08,448.57 126.90,452.85 127.40,456.40 C127.90,459.95 128.55,463.67 130.10,467.30 C131.65,470.93 134.83,474.57 136.70,478.20 C138.57,481.83 139.93,485.47 141.30,489.10 C142.67,492.73 144.07,497.02 144.90,500.00 C145.73,502.98 146.35,504.27 146.30,507.00 C146.25,509.73 145.67,513.02 144.60,516.40 C143.53,519.78 141.63,523.67 139.90,527.30 C138.17,530.93 136.10,534.57 134.20,538.20 C132.30,541.83 130.18,545.47 128.50,549.10 C126.82,552.73 125.18,557.37 124.10,560.00 C123.02,562.63 122.35,564.08 122.00,564.90 L111.00,564.90 C110.65,564.08 109.98,562.63 108.90,560.00 C107.82,557.37 106.18,552.73 104.50,549.10 C102.82,545.47 100.70,541.83 98.80,538.20 C96.90,534.57 94.83,530.93 93.10,527.30 C91.37,523.67 89.47,519.78 88.40,516.40 C87.33,513.02 86.75,509.73 86.70,507.00 C86.65,504.27 87.27,502.98 88.10,500.00 C88.93,497.02 90.33,492.73 91.70,489.10 C93.07,485.47 94.43,481.83 96.30,478.20 C98.17,474.57 101.35,470.93 102.90,467.30 C104.45,463.67 105.10,459.95 105.60,456.40 C106.10,452.85 105.92,448.57 105.90,446.00 C105.88,443.43 105.72,443.37 105.50,441.00 C105.28,438.63 104.87,435.68 104.60,431.80 C104.33,427.92 104.08,422.38 103.90,417.70 C103.72,413.02 103.27,407.88 103.50,403.70 C103.73,399.52 105.00,394.45 105.30,392.60 Z" fill="#F08425" fill-opacity="0.5"/>
<line x1="97.5" y1="392.4" x2="135.5" y2="392.4" stroke="#222" stroke-width="1.2"/>
<line x1="97.5" y1="563" x2="135.5" y2="563" stroke="#222" stroke-width="1.2"/>
<rect x="97.5" y="442.2" width="38.0" height="75.09999999999997" fill="none" stroke="#222" stroke-width="1.2"/>
<line x1="97.5" y1="499.3" x2="135.5" y2="499.3" stroke="#222" stroke-width="1.2"/>
<circle cx="106.7" cy="392.3" r="1.6" fill="#111"/>
<circle cx="111.1" cy="399.2" r="1.6" fill="#111"/>
<circle cx="119.5" cy="398.1" r="1.6" fill="#111"/>
<circle cx="122.9" cy="398.8" r="1.6" fill="#111"/>
<circle cx="118.2" cy="407.0" r="1.6" fill="#111"/>
<circle cx="112.3" cy="409.8" r="1.6" fill="#111"/>
<circle cx="115.8" cy="409.1" r="1.6" fill="#111"/>
<circle cx="120.1" cy="412.3" r="1.6" fill="#111"/>
<circle cx="117.5" cy="419.6" r="1.6" fill="#111"/>
<circle cx="113.0" cy="420.7" r="1.6" fill="#111"/>
<circle cx="112.3" cy="422.4" r="1.6" fill="#111"/>
<circle cx="113.2" cy="432.2" r="1.6" fill="#111"/>
<circle cx="118.9" cy="437.4" r="1.6" fill="#111"/>
<circle cx="111.7" cy="446.8" r="1.6" fill="#111"/>
<circle cx="116.3" cy="454.7" r="1.6" fill="#111"/>
<circle cx="114.7" cy="463.4" r="1.6" fill="#111"/>
<circle cx="118.5" cy="467.8" r="1.6" fill="#111"/>
<circle cx="120.7" cy="466.2" r="1.6" fill="#111"/>
<circle cx="109.5" cy="471.8" r="1.6" fill="#111"/>
<circle cx="112.3" cy="479.8" r="1.6" fill="#111"/>
<circle cx="117.4" cy="486.7" r="1.6" fill="#111"/>
<circle cx="116.7" cy="488.5" r="1.6" fill="#111"/>
<circle cx="115.8" cy="490.7" r="1.6" fill="#111"/>
<circle cx="113.8" cy="494.0" r="1.6" fill="#111"/>
<circle cx="121.0" cy="493.6" r="1.6" fill="#111"/>
<circle cx="118.5" cy="497.8" r="1.6" fill="#111"/>
<circle cx="111.4" cy="499.4" r="1.6" fill="#111"/>
<circle cx="115.8" cy="499.8" r="1.6" fill="#111"/>
<circle cx="125.6" cy="499.4" r="1.6" fill="#111"/>
<circle cx="111.7" cy="503.2" r="1.6" fill="#111"/>
<circle cx="120.2" cy="503.5" r="1.6" fill="#111"/>
<circle cx="112.5" cy="508.1" r="1.6" fill="#111"/>
<circle cx="117.4" cy="508.9" r="1.6" fill="#111"/>
<circle cx="109.5" cy="512.5" r="1.6" fill="#111"/>
<circle cx="114.2" cy="513.6" r="1.6" fill="#111"/>
<circle cx="116.7" cy="512.2" r="1.6" fill="#111"/>
<circle cx="113.6" cy="515.8" r="1.6" fill="#111"/>
<circle cx="118.5" cy="515.8" r="1.6" fill="#111"/>
<circle cx="109.8" cy="518.8" r="1.6" fill="#111"/>
<circle cx="118.0" cy="518.8" r="1.6" fill="#111"/>
<circle cx="119.6" cy="528.6" r="1.6" fill="#111"/>
<circle cx="111.7" cy="530.3" r="1.6" fill="#111"/>
<circle cx="110.1" cy="535.4" r="1.6" fill="#111"/>
<circle cx="116.3" cy="535.8" r="1.6" fill="#111"/>
<circle cx="118.0" cy="540.1" r="1.6" fill="#111"/>
<circle cx="115.8" cy="545.8" r="1.6" fill="#111"/>
<circle cx="119.6" cy="548.0" r="1.6" fill="#111"/>
<circle cx="115.6" cy="553.6" r="1.6" fill="#111"/>
<circle cx="117.1" cy="563.0" r="1.6" fill="#111"/>
<line x1="193.75" y1="420.9" x2="193.75" y2="479" stroke="#000" stroke-width="1.5"/>
<line x1="193.75" y1="525.6" x2="193.75" y2="566.8" stroke="#000" stroke-width="1.5"/>
<path d="M189.10,401.70 L198.90,401.70 C199.13,404.08 199.53,410.10 200.30,416.00 C201.07,421.90 202.38,430.08 203.50,437.10 C204.62,444.12 205.92,451.78 207.00,458.10 C208.08,464.42 207.75,469.58 210.00,475.00 C212.25,480.42 217.72,485.42 220.50,490.60 C223.28,495.78 225.32,501.70 226.70,506.10 C228.08,510.50 229.18,513.10 228.80,517.00 C228.42,520.90 226.95,524.83 224.40,529.50 C221.85,534.17 216.88,539.82 213.50,545.00 C210.12,550.18 206.35,556.32 204.10,560.60 C201.85,564.88 200.68,569.02 200.00,570.70 L188.00,570.70 C187.32,569.02 186.15,564.88 183.90,560.60 C181.65,556.32 177.88,550.18 174.50,545.00 C171.12,539.82 166.15,534.17 163.60,529.50 C161.05,524.83 159.58,520.90 159.20,517.00 C158.82,513.10 159.92,510.50 161.30,506.10 C162.68,501.70 164.72,495.78 167.50,490.60 C170.28,485.42 175.75,480.42 178.00,475.00 C180.25,469.58 179.92,464.42 181.00,458.10 C182.08,451.78 183.38,444.12 184.50,437.10 C185.62,430.08 186.93,421.90 187.70,416.00 C188.47,410.10 188.87,404.08 189.10,401.70 Z" fill="#47A951" fill-opacity="0.5"/>
<line x1="174.6" y1="420.9" x2="212.9" y2="420.9" stroke="#222" stroke-width="1.2"/>
<line x1="174.6" y1="566.8" x2="212.9" y2="566.8" stroke="#222" stroke-width="1.2"/>
<rect x="174.6" y="479" width="38.30000000000001" height="46.60000000000002" fill="none" stroke="#222" stroke-width="1.2"/>
<line x1="174.6" y1="510.5" x2="212.9" y2="510.5" stroke="#222" stroke-width="1.2"/>
<circle cx="193.7" cy="403.7" r="1.6" fill="#111"/>
<circle cx="201.2" cy="403.7" r="1.6" fill="#111"/>
<circle cx="192.3" cy="422.3" r="1.6" fill="#111"/>
<circle cx="197.0" cy="420.9" r="1.6" fill="#111"/>
<circle cx="197.5" cy="436.4" r="1.6" fill="#111"/>
<circle cx="189.5" cy="457.4" r="1.6" fill="#111"/>
<circle cx="194.7" cy="456.3" r="1.6" fill="#111"/>
<circle cx="192.3" cy="467.2" r="1.6" fill="#111"/>
<circle cx="195.1" cy="477.7" r="1.6" fill="#111"/>
<circle cx="191.6" cy="484.6" r="1.6" fill="#111"/>
<circle cx="201.4" cy="482.8" r="1.6" fill="#111"/>
<circle cx="197.3" cy="485.6" r="1.6" fill="#111"/>
<circle cx="189.6" cy="496.0" r="1.6" fill="#111"/>
<circle cx="187.4" cy="502.7" r="1.6" fill="#111"/>
<circle cx="197.0" cy="502.7" r="1.6" fill="#111"/>
<circle cx="198.6" cy="503.8" r="1.6" fill="#111"/>
<circle cx="194.7" cy="507.7" r="1.6" fill="#111"/>
<circle cx="186.4" cy="509.2" r="1.6" fill="#111"/>
<circle cx="190.8" cy="511.6" r="1.6" fill="#111"/>
<circle cx="184.6" cy="514.2" r="1.6" fill="#111"/>
<circle cx="192.4" cy="513.9" r="1.6" fill="#111"/>
<circle cx="196.2" cy="520.1" r="1.6" fill="#111"/>
<circle cx="186.9" cy="524.8" r="1.6" fill="#111"/>
<circle cx="191.1" cy="525.6" r="1.6" fill="#111"/>
<circle cx="193.9" cy="524.5" r="1.6" fill="#111"/>
<circle cx="195.2" cy="523.6" r="1.6" fill="#111"/>
<circle cx="188.5" cy="529.2" r="1.6" fill="#111"/>
<circle cx="200.9" cy="532.6" r="1.6" fill="#111"/>
<circle cx="197.8" cy="536.5" r="1.6" fill="#111"/>
<circle cx="197.8" cy="540.1" r="1.6" fill="#111"/>
<circle cx="193.6" cy="540.7" r="1.6" fill="#111"/>
<circle cx="189.2" cy="543.8" r="1.6" fill="#111"/>
<circle cx="194.7" cy="562.9" r="1.6" fill="#111"/>
<circle cx="200.4" cy="567.1" r="1.6" fill="#111"/>
<line x1="114" y1="385.3" x2="197.1" y2="385.3" stroke="#333" stroke-width="1.3"/>
<text x="156.4" y="381.2" font-size="12.3" text-anchor="middle" fill="#1a1a1a" color="#1a1a1a"><tspan font-style="italic">P</tspan> = 0.0383</text>
<text x="116.3" y="606.5" font-size="13.5" text-anchor="middle" fill="#1a1a1a" color="#1a1a1a">(+)</text>
<text x="196.3" y="606.5" font-size="13.5" text-anchor="middle" fill="#1a1a1a" color="#1a1a1a">(–)</text>
<text x="157.3" y="620.9" font-size="13.5" text-anchor="middle" fill="#1a1a1a" color="#1a1a1a">seed overlap</text>
<text x="157.3" y="636.5" font-size="13.5" text-anchor="middle" fill="#1a1a1a" color="#1a1a1a">with RBP motifs</text>
<text x="407.9" y="340.8" font-size="14.5" text-anchor="middle" fill="#1a1a1a" color="#1a1a1a">background change</text>
<text x="408.1" y="357.8" font-size="14.5" text-anchor="middle" fill="#1a1a1a" color="#1a1a1a">(upregulation)</text>
<line x1="335" y1="370.38750000000005" x2="335" y2="591.3000000000001" stroke="#555" stroke-width="1.3"/>
<line x1="327.1" y1="395.40000000000003" x2="335" y2="395.40000000000003" stroke="#555" stroke-width="1.3"/>
<text x="321.0" y="397.50000000000006" font-size="11.3" text-anchor="end" fill="#2a2a2a" color="#2a2a2a" style="stroke-width:0.08px">0.20</text>
<line x1="327.1" y1="444.225" x2="335" y2="444.225" stroke="#555" stroke-width="1.3"/>
<text x="321.0" y="446.32500000000005" font-size="11.3" text-anchor="end" fill="#2a2a2a" color="#2a2a2a" style="stroke-width:0.08px">0.15</text>
<line x1="327.1" y1="493.05000000000007" x2="335" y2="493.05000000000007" stroke="#555" stroke-width="1.3"/>
<text x="321.0" y="495.1500000000001" font-size="11.3" text-anchor="end" fill="#2a2a2a" color="#2a2a2a" style="stroke-width:0.08px">0.10</text>
<line x1="327.1" y1="541.875" x2="335" y2="541.875" stroke="#555" stroke-width="1.3"/>
<text x="321.0" y="543.975" font-size="11.3" text-anchor="end" fill="#2a2a2a" color="#2a2a2a" style="stroke-width:0.08px">0.05</text>
<line x1="327.1" y1="590.7" x2="335" y2="590.7" stroke="#555" stroke-width="1.3"/>
<text x="321.0" y="592.8000000000001" font-size="11.3" text-anchor="end" fill="#2a2a2a" color="#2a2a2a" style="stroke-width:0.08px">0.00</text>
<line x1="328.4" y1="370.98750000000007" x2="335" y2="370.98750000000007" stroke="#555" stroke-width="1.3"/>
<line x1="328.4" y1="419.81250000000006" x2="335" y2="419.81250000000006" stroke="#555" stroke-width="1.3"/>
<line x1="328.4" y1="468.63750000000005" x2="335" y2="468.63750000000005" stroke="#555" stroke-width="1.3"/>
<line x1="328.4" y1="517.4625000000001" x2="335" y2="517.4625000000001" stroke="#555" stroke-width="1.3"/>
<line x1="328.4" y1="566.2875" x2="335" y2="566.2875" stroke="#555" stroke-width="1.3"/>
<line x1="327.1" y1="590.7" x2="489" y2="590.7" stroke="#555" stroke-width="1.3"/>
<text x="267.8" y="476" font-size="14.4" text-anchor="middle" fill="#1a1a1a" color="#1a1a1a" transform="rotate(-90 267.8 476)">Gene proportion</text>
<text x="285" y="476.6" font-size="14.65" text-anchor="middle" fill="#1a1a1a" color="#1a1a1a" transform="rotate(-90 285 476.6)">(&gt;= 0.3 log2 fold change)</text>
<line x1="373.35" y1="381.7" x2="373.35" y2="444.1" stroke="#000" stroke-width="1.5"/>
<line x1="373.35" y1="524.1" x2="373.35" y2="554.9" stroke="#000" stroke-width="1.5"/>
<path d="M363.00,381.70 L384.00,381.70 C384.15,384.08 384.87,391.28 384.90,396.00 C384.93,400.72 384.63,405.32 384.20,410.00 C383.77,414.68 382.83,419.42 382.30,424.10 C381.77,428.78 380.95,433.43 381.00,438.10 C381.05,442.77 382.12,448.45 382.60,452.10 C383.08,455.75 383.33,457.90 383.90,460.00 C384.47,462.10 385.15,461.97 386.00,464.70 C386.85,467.43 387.23,471.73 389.00,476.40 C390.77,481.07 394.75,487.25 396.60,492.70 C398.45,498.15 399.87,503.65 400.10,509.10 C400.33,514.55 399.30,519.95 398.00,525.40 C396.70,530.85 394.25,536.88 392.30,541.80 C390.35,546.72 387.52,552.23 386.30,554.90 C385.08,557.57 385.22,557.32 385.00,557.80 L362.00,557.80 C361.78,557.32 361.92,557.57 360.70,554.90 C359.48,552.23 356.65,546.72 354.70,541.80 C352.75,536.88 350.30,530.85 349.00,525.40 C347.70,519.95 346.67,514.55 346.90,509.10 C347.13,503.65 348.55,498.15 350.40,492.70 C352.25,487.25 356.23,481.07 358.00,476.40 C359.77,471.73 360.15,467.43 361.00,464.70 C361.85,461.97 362.53,462.10 363.10,460.00 C363.67,457.90 363.92,455.75 364.40,452.10 C364.88,448.45 365.95,442.77 366.00,438.10 C366.05,433.43 365.23,428.78 364.70,424.10 C364.17,419.42 363.23,414.68 362.80,410.00 C362.37,405.32 362.07,400.72 362.10,396.00 C362.13,391.28 362.85,384.08 363.00,381.70 Z" fill="#F08425" fill-opacity="0.5"/>
<line x1="354.4" y1="381.7" x2="392.3" y2="381.7" stroke="#222" stroke-width="1.2"/>
<line x1="354.4" y1="554.9" x2="392.3" y2="554.9" stroke="#222" stroke-width="1.2"/>
<rect x="354.4" y="444.1" width="37.900000000000034" height="80.0" fill="none" stroke="#222" stroke-width="1.2"/>
<line x1="354.4" y1="499.3" x2="392.3" y2="499.3" stroke="#222" stroke-width="1.2"/>
<circle cx="368.1" cy="382.0" r="1.6" fill="#111"/>
<circle cx="363.2" cy="387.3" r="1.6" fill="#111"/>
<circle cx="367.4" cy="392.1" r="1.6" fill="#111"/>
<circle cx="374.2" cy="401.9" r="1.6" fill="#111"/>
<circle cx="379.3" cy="404.4" r="1.6" fill="#111"/>
<circle cx="376.1" cy="408.6" r="1.6" fill="#111"/>
<circle cx="377.2" cy="409.8" r="1.6" fill="#111"/>
<circle cx="370.2" cy="415.0" r="1.6" fill="#111"/>
<circle cx="369.1" cy="417.8" r="1.6" fill="#111"/>
<circle cx="372.8" cy="423.4" r="1.6" fill="#111"/>
<circle cx="370.0" cy="424.8" r="1.6" fill="#111"/>
<circle cx="373.7" cy="425.2" r="1.6" fill="#111"/>
<circle cx="369.1" cy="429.0" r="1.6" fill="#111"/>
<circle cx="374.4" cy="432.8" r="1.6" fill="#111"/>
<circle cx="373.0" cy="456.0" r="1.6" fill="#111"/>
<circle cx="375.6" cy="459.8" r="1.6" fill="#111"/>
<circle cx="369.1" cy="473.1" r="1.6" fill="#111"/>
<circle cx="375.2" cy="476.0" r="1.6" fill="#111"/>
<circle cx="373.5" cy="478.3" r="1.6" fill="#111"/>
<circle cx="377.6" cy="480.9" r="1.6" fill="#111"/>
<circle cx="371.4" cy="484.2" r="1.6" fill="#111"/>
<circle cx="367.0" cy="491.9" r="1.6" fill="#111"/>
<circle cx="366.2" cy="493.5" r="1.6" fill="#111"/>
<circle cx="372.4" cy="495.7" r="1.6" fill="#111"/>
<circle cx="369.1" cy="497.9" r="1.6" fill="#111"/>
<circle cx="376.8" cy="498.4" r="1.6" fill="#111"/>
<circle cx="368.6" cy="499.3" r="1.6" fill="#111"/>
<circle cx="375.2" cy="503.3" r="1.6" fill="#111"/>
<circle cx="365.8" cy="508.2" r="1.6" fill="#111"/>
<circle cx="372.7" cy="510.7" r="1.6" fill="#111"/>
<circle cx="369.1" cy="515.6" r="1.6" fill="#111"/>
<circle cx="372.7" cy="515.9" r="1.6" fill="#111"/>
<circle cx="375.7" cy="515.9" r="1.6" fill="#111"/>
<circle cx="382.9" cy="515.9" r="1.6" fill="#111"/>
<circle cx="372.4" cy="519.7" r="1.6" fill="#111"/>
<circle cx="374.3" cy="522.5" r="1.6" fill="#111"/>
<circle cx="373.5" cy="525.8" r="1.6" fill="#111"/>
<circle cx="371.9" cy="527.9" r="1.6" fill="#111"/>
<circle cx="369.4" cy="529.5" r="1.6" fill="#111"/>
<circle cx="366.5" cy="532.0" r="1.6" fill="#111"/>
<circle cx="378.0" cy="532.3" r="1.6" fill="#111"/>
<circle cx="366.5" cy="536.1" r="1.6" fill="#111"/>
<circle cx="368.6" cy="541.5" r="1.6" fill="#111"/>
<circle cx="372.4" cy="541.5" r="1.6" fill="#111"/>
<circle cx="376.3" cy="543.4" r="1.6" fill="#111"/>
<circle cx="374.3" cy="546.7" r="1.6" fill="#111"/>
<circle cx="376.0" cy="549.1" r="1.6" fill="#111"/>
<circle cx="375.2" cy="554.0" r="1.6" fill="#111"/>
<circle cx="375.7" cy="555.2" r="1.6" fill="#111"/>
<line x1="450.5" y1="462" x2="450.5" y2="489.3" stroke="#000" stroke-width="1.5"/>
<line x1="450.5" y1="523.3" x2="450.5" y2="569.6" stroke="#000" stroke-width="1.5"/>
<path d="M448.00,400.30 L453.20,400.30 C453.20,402.92 453.10,409.87 453.20,416.00 C453.30,422.13 453.23,431.72 453.80,437.10 C454.37,442.48 455.38,445.27 456.60,448.30 C457.82,451.33 459.30,452.50 461.10,455.30 C462.90,458.10 464.98,461.82 467.40,465.10 C469.82,468.38 473.98,472.67 475.60,475.00 C477.22,477.33 475.93,476.50 477.10,479.10 C478.27,481.70 481.30,486.08 482.60,490.60 C483.90,495.12 485.23,501.00 484.90,506.20 C484.57,511.40 483.20,516.60 480.60,521.80 C478.00,527.00 472.62,532.22 469.30,537.40 C465.98,542.58 462.65,547.72 460.70,552.90 C458.75,558.08 458.45,565.38 457.60,568.50 C456.75,571.62 455.93,571.08 455.60,571.60 L445.60,571.60 C445.27,571.08 444.45,571.62 443.60,568.50 C442.75,565.38 442.45,558.08 440.50,552.90 C438.55,547.72 435.22,542.58 431.90,537.40 C428.58,532.22 423.20,527.00 420.60,521.80 C418.00,516.60 416.63,511.40 416.30,506.20 C415.97,501.00 417.30,495.12 418.60,490.60 C419.90,486.08 422.93,481.70 424.10,479.10 C425.27,476.50 423.98,477.33 425.60,475.00 C427.22,472.67 431.38,468.38 433.80,465.10 C436.22,461.82 438.30,458.10 440.10,455.30 C441.90,452.50 443.38,451.33 444.60,448.30 C445.82,445.27 446.83,442.48 447.40,437.10 C447.97,431.72 447.90,422.13 448.00,416.00 C448.10,409.87 448.00,402.92 448.00,400.30 Z" fill="#47A951" fill-opacity="0.5"/>
<line x1="431.5" y1="462" x2="469.5" y2="462" stroke="#222" stroke-width="1.2"/>
<line x1="431.5" y1="569.6" x2="469.5" y2="569.6" stroke="#222" stroke-width="1.2"/>
<rect x="431.5" y="489.3" width="38.0" height="33.99999999999994" fill="none" stroke="#222" stroke-width="1.2"/>
<line x1="431.5" y1="503.8" x2="469.5" y2="503.8" stroke="#222" stroke-width="1.2"/>
<circle cx="454.0" cy="400.3" r="1.6" fill="#111"/>
<circle cx="457.8" cy="400.3" r="1.6" fill="#111"/>
<circle cx="452.2" cy="428.6" r="1.6" fill="#111"/>
<circle cx="452.9" cy="428.9" r="1.6" fill="#111"/>
<circle cx="454.0" cy="462.0" r="1.6" fill="#111"/>
<circle cx="446.5" cy="471.4" r="1.6" fill="#111"/>
<circle cx="448.6" cy="471.0" r="1.6" fill="#111"/>
<circle cx="451.2" cy="478.0" r="1.6" fill="#111"/>
<circle cx="451.3" cy="487.5" r="1.6" fill="#111"/>
<circle cx="441.2" cy="490.6" r="1.6" fill="#111"/>
<circle cx="446.2" cy="489.3" r="1.6" fill="#111"/>
<circle cx="448.7" cy="489.8" r="1.6" fill="#111"/>
<circle cx="445.5" cy="492.9" r="1.6" fill="#111"/>
<circle cx="450.8" cy="493.4" r="1.6" fill="#111"/>
<circle cx="453.6" cy="495.0" r="1.6" fill="#111"/>
<circle cx="455.2" cy="495.6" r="1.6" fill="#111"/>
<circle cx="457.5" cy="492.9" r="1.6" fill="#111"/>
<circle cx="443.5" cy="499.2" r="1.6" fill="#111"/>
<circle cx="447.4" cy="500.3" r="1.6" fill="#111"/>
<circle cx="449.8" cy="507.4" r="1.6" fill="#111"/>
<circle cx="452.9" cy="510.5" r="1.6" fill="#111"/>
<circle cx="454.4" cy="510.1" r="1.6" fill="#111"/>
<circle cx="452.1" cy="517.1" r="1.6" fill="#111"/>
<circle cx="453.6" cy="517.4" r="1.6" fill="#111"/>
<circle cx="444.0" cy="520.2" r="1.6" fill="#111"/>
<circle cx="449.8" cy="519.4" r="1.6" fill="#111"/>
<circle cx="455.2" cy="521.8" r="1.6" fill="#111"/>
<circle cx="443.0" cy="525.2" r="1.6" fill="#111"/>
<circle cx="447.4" cy="524.6" r="1.6" fill="#111"/>
<circle cx="457.5" cy="525.7" r="1.6" fill="#111"/>
<circle cx="450.5" cy="529.2" r="1.6" fill="#111"/>
<circle cx="451.8" cy="533.5" r="1.6" fill="#111"/>
<circle cx="449.0" cy="539.2" r="1.6" fill="#111"/>
<circle cx="446.2" cy="550.6" r="1.6" fill="#111"/>
<circle cx="457.5" cy="567.0" r="1.6" fill="#111"/>
<circle cx="450.8" cy="569.6" r="1.6" fill="#111"/>
<line x1="371.6" y1="378.7" x2="454.6" y2="378.7" stroke="#333" stroke-width="1.3"/>
<text x="412.7" y="376.5" font-size="12.3" text-anchor="middle" fill="#1a1a1a" color="#1a1a1a"><tspan font-style="italic">P</tspan> = 0.0382</text>
<text x="371.4" y="606.5" font-size="13.5" text-anchor="middle" fill="#1a1a1a" color="#1a1a1a">(+)</text>
<text x="451.6" y="606.5" font-size="13.5" text-anchor="middle" fill="#1a1a1a" color="#1a1a1a">(–)</text>
<text x="412.7" y="620.9" font-size="13.5" text-anchor="middle" fill="#1a1a1a" color="#1a1a1a">seed overlap</text>
<text x="412.7" y="636.5" font-size="13.5" text-anchor="middle" fill="#1a1a1a" color="#1a1a1a">with RBP motifs</text>
<text x="503.4" y="346.7" font-size="25" text-anchor="start" font-weight="bold" fill="#111" color="#111">d</text>
<line x1="589.2" y1="369.9125" x2="589.2" y2="589.6175000000001" stroke="#555" stroke-width="1.3"/>
<line x1="583.7" y1="370.51250000000005" x2="589.2" y2="370.51250000000005" stroke="#555" stroke-width="1.3"/>
<text x="581.3" y="372.61250000000007" font-size="11.0" text-anchor="end" fill="#2a2a2a" color="#2a2a2a" style="stroke-width:0.08px">1250</text>
<line x1="583.7" y1="406.93000000000006" x2="589.2" y2="406.93000000000006" stroke="#555" stroke-width="1.3"/>
<text x="581.3" y="409.0300000000001" font-size="11.0" text-anchor="end" fill="#2a2a2a" color="#2a2a2a" style="stroke-width:0.08px">1000</text>
<line x1="583.7" y1="443.3475" x2="589.2" y2="443.3475" stroke="#555" stroke-width="1.3"/>
<text x="581.3" y="445.44750000000005" font-size="11.0" text-anchor="end" fill="#2a2a2a" color="#2a2a2a" style="stroke-width:0.08px">750</text>
<line x1="583.7" y1="479.76500000000004" x2="589.2" y2="479.76500000000004" stroke="#555" stroke-width="1.3"/>
<text x="581.3" y="481.86500000000007" font-size="11.0" text-anchor="end" fill="#2a2a2a" color="#2a2a2a" style="stroke-width:0.08px">500</text>
<line x1="583.7" y1="516.1825" x2="589.2" y2="516.1825" stroke="#555" stroke-width="1.3"/>
<text x="581.3" y="518.2825" font-size="11.0" text-anchor="end" fill="#2a2a2a" color="#2a2a2a" style="stroke-width:0.08px">250</text>
<line x1="583.7" y1="552.6" x2="589.2" y2="552.6" stroke="#555" stroke-width="1.3"/>
<text x="581.3" y="554.7" font-size="11.0" text-anchor="end" fill="#2a2a2a" color="#2a2a2a" style="stroke-width:0.08px">0</text>
<line x1="583.7" y1="589.0175" x2="589.2" y2="589.0175" stroke="#555" stroke-width="1.3"/>
<text x="581.3" y="591.1175000000001" font-size="11.0" text-anchor="end" fill="#2a2a2a" color="#2a2a2a" style="stroke-width:0.08px">−250</text>
<line x1="583.7" y1="589.0175" x2="790.2" y2="589.0175" stroke="#555" stroke-width="1.3"/>
<text x="543.8" y="476.9" font-size="14.2" text-anchor="middle" fill="#1a1a1a" color="#1a1a1a" transform="rotate(-90 543.8 476.9)">POTS values</text>
<line x1="639.6" y1="400.6" x2="639.6" y2="471.3" stroke="#000" stroke-width="1.5"/>
<line x1="639.6" y1="522.2" x2="639.6" y2="549.1" stroke="#000" stroke-width="1.5"/>
<path d="M637.70,400.20 L640.90,400.20 C641.30,402.45 642.37,408.35 643.30,413.70 C644.23,419.05 645.40,426.08 646.50,432.30 C647.60,438.52 648.88,445.55 649.90,451.00 C650.92,456.45 651.95,460.33 652.60,465.00 C653.25,469.67 653.27,475.33 653.80,479.00 C654.33,482.67 654.95,484.67 655.80,487.00 C656.65,489.33 657.40,490.83 658.90,493.00 C660.40,495.17 662.82,497.67 664.80,500.00 C666.78,502.33 669.38,504.20 670.80,507.00 C672.22,509.80 673.58,513.30 673.30,516.80 C673.02,520.30 671.43,524.25 669.10,528.00 C666.77,531.75 661.80,536.30 659.30,539.30 C656.80,542.30 655.33,544.37 654.10,546.00 C652.87,547.63 652.62,548.12 651.90,549.10 C651.18,550.08 650.15,551.43 649.80,551.90 L628.80,551.90 C628.45,551.43 627.42,550.08 626.70,549.10 C625.98,548.12 625.73,547.63 624.50,546.00 C623.27,544.37 621.80,542.30 619.30,539.30 C616.80,536.30 611.83,531.75 609.50,528.00 C607.17,524.25 605.58,520.30 605.30,516.80 C605.02,513.30 606.38,509.80 607.80,507.00 C609.22,504.20 611.82,502.33 613.80,500.00 C615.78,497.67 618.20,495.17 619.70,493.00 C621.20,490.83 621.95,489.33 622.80,487.00 C623.65,484.67 624.27,482.67 624.80,479.00 C625.33,475.33 625.35,469.67 626.00,465.00 C626.65,460.33 627.68,456.45 628.70,451.00 C629.72,445.55 631.00,438.52 632.10,432.30 C633.20,426.08 634.37,419.05 635.30,413.70 C636.23,408.35 637.30,402.45 637.70,400.20 Z" fill="#E10115" fill-opacity="0.5"/>
<line x1="614.7" y1="400.6" x2="664.5" y2="400.6" stroke="#222" stroke-width="1.2"/>
<line x1="614.7" y1="549.1" x2="664.5" y2="549.1" stroke="#222" stroke-width="1.2"/>
<rect x="614.7" y="471.3" width="49.799999999999955" height="50.900000000000034" fill="none" stroke="#222" stroke-width="1.2"/>
<line x1="614.7" y1="511.2" x2="664.5" y2="511.2" stroke="#222" stroke-width="1.2"/>
<circle cx="639.6" cy="400.2" r="1.6" fill="#111"/>
<circle cx="634.6" cy="418.9" r="1.6" fill="#111"/>
<circle cx="646.3" cy="419.9" r="1.6" fill="#111"/>
<circle cx="648.3" cy="429.2" r="1.6" fill="#111"/>
<circle cx="641.7" cy="441.3" r="1.6" fill="#111"/>
<circle cx="643.0" cy="446.0" r="1.6" fill="#111"/>
<circle cx="644.6" cy="445.4" r="1.6" fill="#111"/>
<circle cx="642.6" cy="451.6" r="1.6" fill="#111"/>
<circle cx="634.6" cy="458.7" r="1.6" fill="#111"/>
<circle cx="638.4" cy="460.0" r="1.6" fill="#111"/>
<circle cx="640.9" cy="458.7" r="1.6" fill="#111"/>
<circle cx="626.8" cy="466.2" r="1.6" fill="#111"/>
<circle cx="651.7" cy="466.0" r="1.6" fill="#111"/>
<circle cx="633.4" cy="471.2" r="1.6" fill="#111"/>
<circle cx="640.9" cy="471.2" r="1.6" fill="#111"/>
<circle cx="635.0" cy="483.2" r="1.6" fill="#111"/>
<circle cx="641.8" cy="483.2" r="1.6" fill="#111"/>
<circle cx="640.9" cy="487.4" r="1.6" fill="#111"/>
<circle cx="636.1" cy="493.0" r="1.6" fill="#111"/>
<circle cx="637.5" cy="493.7" r="1.6" fill="#111"/>
<circle cx="638.1" cy="497.5" r="1.6" fill="#111"/>
<circle cx="646.2" cy="497.5" r="1.6" fill="#111"/>
<circle cx="642.3" cy="502.5" r="1.6" fill="#111"/>
<circle cx="638.5" cy="504.2" r="1.6" fill="#111"/>
<circle cx="634.3" cy="507.7" r="1.6" fill="#111"/>
<circle cx="640.6" cy="508.4" r="1.6" fill="#111"/>
<circle cx="638.5" cy="511.2" r="1.6" fill="#111"/>
<circle cx="637.8" cy="515.7" r="1.6" fill="#111"/>
<circle cx="642.0" cy="517.1" r="1.6" fill="#111"/>
<circle cx="639.9" cy="518.9" r="1.6" fill="#111"/>
<circle cx="636.7" cy="520.3" r="1.6" fill="#111"/>
<circle cx="635.0" cy="521.3" r="1.6" fill="#111"/>
<circle cx="631.5" cy="522.2" r="1.6" fill="#111"/>
<circle cx="649.0" cy="516.1" r="1.6" fill="#111"/>
<circle cx="650.2" cy="519.6" r="1.6" fill="#111"/>
<circle cx="640.6" cy="525.5" r="1.6" fill="#111"/>
<circle cx="641.8" cy="527.3" r="1.6" fill="#111"/>
<circle cx="651.6" cy="527.3" r="1.6" fill="#111"/>
<circle cx="630.1" cy="532.5" r="1.6" fill="#111"/>
<circle cx="639.2" cy="533.7" r="1.6" fill="#111"/>
<circle cx="639.6" cy="536.2" r="1.6" fill="#111"/>
<circle cx="638.1" cy="540.7" r="1.6" fill="#111"/>
<circle cx="634.7" cy="543.5" r="1.6" fill="#111"/>
<circle cx="643.2" cy="543.5" r="1.6" fill="#111"/>
<circle cx="632.5" cy="549.1" r="1.6" fill="#111"/>
<circle cx="634.3" cy="549.1" r="1.6" fill="#111"/>
<circle cx="643.4" cy="549.1" r="1.6" fill="#111"/>
<circle cx="638.0" cy="518.0" r="1.6" fill="#111"/>
<circle cx="641.5" cy="519.5" r="1.6" fill="#111"/>
<circle cx="633.0" cy="521.0" r="1.6" fill="#111"/>
<line x1="739.6" y1="455.5" x2="739.6" y2="498.6" stroke="#000" stroke-width="1.5"/>
<line x1="739.6" y1="549.1" x2="739.6" y2="552.4" stroke="#000" stroke-width="1.5"/>
<path d="M730.00,456.00 L749.00,456.00 C749.78,457.73 752.20,462.85 753.70,466.40 C755.20,469.95 756.65,473.67 758.00,477.30 C759.35,480.93 760.80,484.93 761.80,488.20 C762.80,491.47 763.63,494.43 764.00,496.90 C764.37,499.37 764.18,500.82 764.00,503.00 C763.82,505.18 763.35,507.58 762.90,510.00 C762.45,512.42 761.37,515.33 761.30,517.50 C761.23,519.67 761.60,520.92 762.50,523.00 C763.40,525.08 764.58,527.78 766.70,530.00 C768.82,532.22 772.73,534.20 775.20,536.30 C777.67,538.40 779.98,540.72 781.50,542.60 C783.02,544.48 783.92,546.28 784.30,547.60 C784.68,548.92 784.27,549.73 783.80,550.50 C783.33,551.27 781.88,551.92 781.50,552.20 L697.50,552.20 C697.12,551.92 695.67,551.27 695.20,550.50 C694.73,549.73 694.32,548.92 694.70,547.60 C695.08,546.28 695.98,544.48 697.50,542.60 C699.02,540.72 701.33,538.40 703.80,536.30 C706.27,534.20 710.18,532.22 712.30,530.00 C714.42,527.78 715.60,525.08 716.50,523.00 C717.40,520.92 717.77,519.67 717.70,517.50 C717.63,515.33 716.55,512.42 716.10,510.00 C715.65,507.58 715.18,505.18 715.00,503.00 C714.82,500.82 714.63,499.37 715.00,496.90 C715.37,494.43 716.20,491.47 717.20,488.20 C718.20,484.93 719.65,480.93 721.00,477.30 C722.35,473.67 723.80,469.95 725.30,466.40 C726.80,462.85 729.22,457.73 730.00,456.00 Z" fill="#5189D1" fill-opacity="0.5"/>
<line x1="714.5" y1="455.5" x2="764.7" y2="455.5" stroke="#222" stroke-width="1.2"/>
<line x1="714.5" y1="552.4" x2="764.7" y2="552.4" stroke="#222" stroke-width="1.2"/>
<rect x="714.5" y="498.6" width="50.200000000000045" height="50.5" fill="none" stroke="#222" stroke-width="1.2"/>
<line x1="714.5" y1="536.6" x2="764.7" y2="536.6" stroke="#222" stroke-width="1.2"/>
<circle cx="735.0" cy="455.5" r="1.6" fill="#111"/>
<circle cx="739.3" cy="457.6" r="1.6" fill="#111"/>
<circle cx="743.0" cy="476.0" r="1.6" fill="#111"/>
<circle cx="731.0" cy="478.9" r="1.6" fill="#111"/>
<circle cx="731.2" cy="480.3" r="1.6" fill="#111"/>
<circle cx="742.6" cy="480.3" r="1.6" fill="#111"/>
<circle cx="736.6" cy="484.3" r="1.6" fill="#111"/>
<circle cx="731.4" cy="493.4" r="1.6" fill="#111"/>
<circle cx="745.9" cy="497.4" r="1.6" fill="#111"/>
<circle cx="734.2" cy="503.2" r="1.6" fill="#111"/>
<circle cx="738.3" cy="504.5" r="1.6" fill="#111"/>
<circle cx="739.3" cy="506.2" r="1.6" fill="#111"/>
<circle cx="743.7" cy="503.6" r="1.6" fill="#111"/>
<circle cx="750.6" cy="503.6" r="1.6" fill="#111"/>
<circle cx="741.2" cy="510.0" r="1.6" fill="#111"/>
<circle cx="736.1" cy="515.2" r="1.6" fill="#111"/>
<circle cx="734.2" cy="518.1" r="1.6" fill="#111"/>
<circle cx="735.4" cy="529.8" r="1.6" fill="#111"/>
<circle cx="730.4" cy="544.8" r="1.6" fill="#111"/>
<circle cx="732.9" cy="544.1" r="1.6" fill="#111"/>
<circle cx="737.6" cy="544.8" r="1.6" fill="#111"/>
<circle cx="739.5" cy="546.4" r="1.6" fill="#111"/>
<circle cx="742.0" cy="548.2" r="1.6" fill="#111"/>
<circle cx="745.1" cy="548.9" r="1.6" fill="#111"/>
<circle cx="747.6" cy="549.5" r="1.6" fill="#111"/>
<circle cx="738.6" cy="549.5" r="1.6" fill="#111"/>
<circle cx="740.8" cy="550.7" r="1.6" fill="#111"/>
<circle cx="743.9" cy="552.0" r="1.6" fill="#111"/>
<circle cx="732.6" cy="548.2" r="1.6" fill="#111"/>
<circle cx="737.0" cy="548.2" r="1.6" fill="#111"/>
<line x1="639.5" y1="390.5" x2="739.7" y2="390.5" stroke="#333" stroke-width="1.3"/>
<text x="689.7" y="383.5" font-size="12.3" text-anchor="middle" fill="#1a1a1a" color="#1a1a1a"><tspan font-style="italic">P</tspan> = 0.0044</text>
<path d="M660.8,542.8 L711.8,542.8 M686.1,542.8 L686.1,556" stroke="#EA2128" stroke-width="1.7" fill="none"/>
<path d="M686.1,562.3 L682.4,554.6 L686.1,556.2 L689.8,554.6 Z" fill="#EA2128"/>
<text x="697" y="580.3" font-size="12.6" text-anchor="middle" fill="#1a1a1a" color="#1a1a1a">low off-target siRNAs</text>
<text x="636" y="606.2" font-size="13.5" text-anchor="middle" fill="#1a1a1a" color="#1a1a1a">seed overlap</text>
<text x="636" y="622.8" font-size="13.5" text-anchor="middle" fill="#1a1a1a" color="#1a1a1a">with RBP motifs</text>
<text x="636.8" y="638.5" font-size="13.5" text-anchor="middle" fill="#1a1a1a" color="#1a1a1a">(+)</text>
<text x="745.6" y="606.2" font-size="13.5" text-anchor="middle" fill="#1a1a1a" color="#1a1a1a">seed overlap</text>
<text x="746.1" y="622.8" font-size="13.5" text-anchor="middle" fill="#1a1a1a" color="#1a1a1a">with RBP motifs</text>
<text x="746.1" y="638.5" font-size="13.5" text-anchor="middle" fill="#1a1a1a" color="#1a1a1a">(–)</text>
<rect x="358.90" y="145.07" width="2.48" height="2.39" fill="#fff"/>
<rect x="362.58" y="145.07" width="2.39" height="2.39" fill="#fff"/>
<rect x="358.90" y="169.52" width="2.48" height="2.39" fill="#fff"/>
<rect x="362.58" y="169.52" width="2.39" height="2.39" fill="#fff"/>
<rect x="358.89" y="267.30" width="2.48" height="2.39" fill="#fff"/>
<rect x="362.57" y="267.30" width="2.39" height="2.39" fill="#fff"/>
<rect x="483.02" y="46.63" width="2.66" height="2.47" fill="#fff"/>
<rect x="486.96" y="46.63" width="2.56" height="2.47" fill="#fff"/>
<rect x="488.94" y="46.63" width="2.66" height="2.47" fill="#fff"/>
<rect x="492.88" y="46.63" width="2.56" height="2.47" fill="#fff"/>
<rect x="610.90" y="145.07" width="2.48" height="2.39" fill="#fff"/>
<rect x="614.58" y="145.07" width="2.39" height="2.39" fill="#fff"/>
<rect x="610.90" y="169.52" width="2.48" height="2.39" fill="#fff"/>
<rect x="614.58" y="169.52" width="2.39" height="2.39" fill="#fff"/>
<rect x="610.89" y="267.30" width="2.48" height="2.39" fill="#fff"/>
<rect x="614.57" y="267.30" width="2.39" height="2.39" fill="#fff"/>
<rect x="736.76" y="105.13" width="2.66" height="2.47" fill="#fff"/>
<rect x="740.70" y="105.13" width="2.56" height="2.47" fill="#fff"/>
<rect x="51.67" y="444.93" width="2.48" height="2.39" fill="#fff"/>
<rect x="55.35" y="444.93" width="2.39" height="2.39" fill="#fff"/>
<rect x="51.67" y="493.76" width="2.48" height="2.39" fill="#fff"/>
<rect x="55.35" y="493.76" width="2.39" height="2.39" fill="#fff"/>
<rect x="308.67" y="444.93" width="2.48" height="2.39" fill="#fff"/>
<rect x="312.35" y="444.93" width="2.39" height="2.39" fill="#fff"/>
<rect x="308.67" y="493.76" width="2.48" height="2.39" fill="#fff"/>
<rect x="312.35" y="493.76" width="2.39" height="2.39" fill="#fff"/>
<rect x="557.05" y="371.24" width="2.43" height="2.37" fill="#fff"/>
<rect x="560.65" y="371.24" width="2.34" height="2.37" fill="#fff"/>
<rect x="557.05" y="407.66" width="2.43" height="2.37" fill="#fff"/>
<rect x="560.65" y="407.66" width="2.34" height="2.37" fill="#fff"/>
</svg>
</body></html>
